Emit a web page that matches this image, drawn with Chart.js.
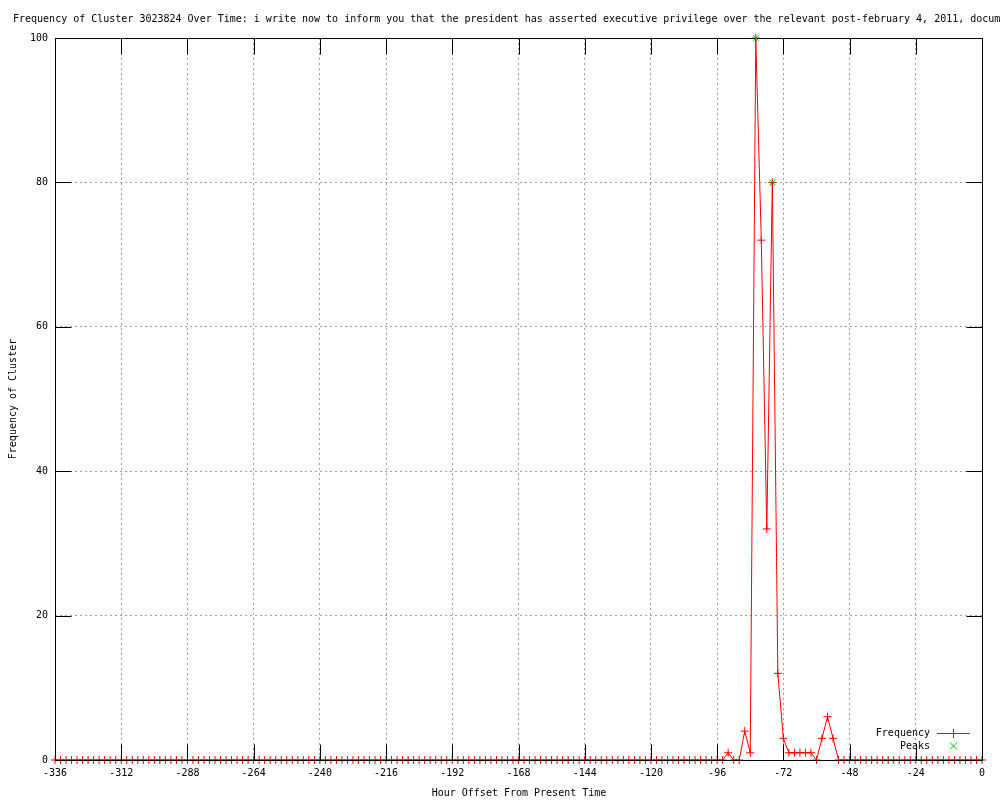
<!DOCTYPE html>
<html>
<head>
<meta charset="utf-8">
<script src="https://cdn.jsdelivr.net/npm/chart.js@4"></script>
<style>
  html, body { margin: 0; padding: 0; background: #fff; }
  #chart { display: block; }
</style>
</head>
<body>
<canvas id="chart" width="1000" height="800"></canvas>
<script>
// Данные графика
const titleText = 'Frequency of Cluster 3023824 Over Time: i write now to inform you that the president has asserted executive privilege over the relevant post-february 4, 2011, documents';
const xTitle = 'Hour Offset From Present Time';
const yTitle = 'Frequency of Cluster';

// часы от -336 до 0 с шагом 2
const hours = Array.from({ length: 169 }, (_, i) => -336 + 2 * i);

const frequency = [
    0, 0, 0, 0, 0, 0, 0, 0, 0, 0, 0, 0, 0, 0, 0, 0, 0, 0, 0, 0, 0, 0, 0, 0,
    0, 0, 0, 0, 0, 0, 0, 0, 0, 0, 0, 0, 0, 0, 0, 0, 0, 0, 0, 0, 0, 0, 0, 0,
    0, 0, 0, 0, 0, 0, 0, 0, 0, 0, 0, 0, 0, 0, 0, 0, 0, 0, 0, 0, 0, 0, 0, 0,
    0, 0, 0, 0, 0, 0, 0, 0, 0, 0, 0, 0, 0, 0, 0, 0, 0, 0, 0, 0, 0, 0, 0, 0,
    0, 0, 0, 0, 0, 0, 0, 0, 0, 0, 0, 0, 0, 0, 0, 0, 0, 0, 0, 0, 0, 0, 0, 0,
    0, 0,
    1, 0, 0, 4, 1, 100, 72, 32, 80, 12, 3, 1, 1, 1, 1, 1, 0, 3, 6, 3,
    0, 0, 0, 0, 0, 0, 0, 0, 0, 0, 0, 0, 0, 0, 0, 0, 0, 0, 0, 0, 0, 0, 0, 0,
    0, 0, 0
];

const peakHours = [-82, -76];
const peakValues = [100, 80];

const xTicks = [-336, -312, -288, -264, -240, -216, -192, -168, -144, -120, -96, -72, -48, -24, 0];
const yTicks = [0, 20, 40, 60, 80, 100];

const RED = 'rgb(255,0,0)';
const GREEN = 'rgb(0,192,0)';
const FONT = '10px "DejaVu Sans Mono", "Liberation Mono", monospace';

// Рамка и внутренние засечки в стиле gnuplot
function drawFrame(chart) {
    const ctx = chart.ctx;
    const a = chart.chartArea;
    const xs = chart.scales.x, ys = chart.scales.y;
    const L = Math.round(a.left) + 0.5, R = Math.round(a.right) + 0.5;
    const T = Math.round(a.top) + 0.5, B = Math.round(a.bottom) + 0.5;
    ctx.save();
    ctx.strokeStyle = '#000';
    ctx.lineWidth = 1;
    ctx.beginPath();
    ctx.rect(L, T, R - L, B - T);
    xTicks.forEach(v => {
        const px = Math.round(xs.getPixelForValue(v)) + 0.5;
        ctx.moveTo(px, B); ctx.lineTo(px, B - 16);
        ctx.moveTo(px, T); ctx.lineTo(px, T + 16);
    });
    yTicks.forEach(v => {
        const py = Math.round(ys.getPixelForValue(v)) + 0.5;
        ctx.moveTo(L, py); ctx.lineTo(L + 16, py);
        ctx.moveTo(R, py); ctx.lineTo(R - 16, py);
    });
    ctx.stroke();
    ctx.restore();
}

const gnuplotLook = {
    id: 'gnuplotLook',
    afterDatasetDraw(chart, args) {
        if (args.index === 0) drawFrame(chart);
    },
    afterDraw(chart) {
        const ctx = chart.ctx;
        ctx.save();
        ctx.font = FONT;
        ctx.fillStyle = '#000';
        ctx.textBaseline = 'middle';

        // заголовок
        ctx.textAlign = 'left';
        ctx.fillText(titleText, 13, 19);

        // подписи осей
        ctx.textAlign = 'center';
        ctx.fillText(xTitle, 519, 793);
        ctx.save();
        ctx.translate(13, 399);
        ctx.rotate(-Math.PI / 2);
        ctx.fillText(yTitle, 0, 0);
        ctx.restore();

        // легенда
        ctx.textAlign = 'right';
        ctx.fillText('Frequency', 930, 733);
        ctx.fillText('Peaks', 930, 746);
        ctx.fillStyle = RED;
        ctx.fillRect(937, 733, 33, 1);
        ctx.fillRect(953, 729, 1, 9);
        ctx.strokeStyle = GREEN;
        ctx.lineWidth = 1;
        ctx.beginPath();
        ctx.moveTo(950, 742.5); ctx.lineTo(957, 749.5);
        ctx.moveTo(957, 742.5); ctx.lineTo(950, 749.5);
        ctx.stroke();
        ctx.restore();
    }
};

const freqPoints = hours.map((h, i) => ({ x: h, y: frequency[i] }));
const peakPoints = peakHours.map((h, i) => ({ x: h, y: peakValues[i] }));

Chart.defaults.font.family = '"DejaVu Sans Mono", "Liberation Mono", monospace';
Chart.defaults.font.size = 10;
Chart.defaults.color = '#000';

new Chart(document.getElementById('chart'), {
    type: 'scatter',
    data: {
        datasets: [
            {
                label: 'Frequency',
                data: freqPoints,
                showLine: true,
                borderColor: RED,
                backgroundColor: RED,
                borderWidth: 1,
                pointStyle: 'cross',
                pointRadius: 4,
                pointBorderWidth: 1,
                pointBorderColor: RED,
                tension: 0,
                clip: false,
                order: 2
            },
            {
                label: 'Peaks',
                data: peakPoints,
                showLine: false,
                pointStyle: 'crossRot',
                pointRadius: 4,
                pointBorderWidth: 1,
                pointBorderColor: GREEN,
                backgroundColor: GREEN,
                clip: false,
                order: 1
            }
        ]
    },
    options: {
        responsive: false,
        animation: false,
        layout: { padding: { top: 38, right: 18, left: 0, bottom: 0 } },
        plugins: {
            legend: { display: false },
            title: { display: false },
            tooltip: { enabled: false }
        },
        scales: {
            x: {
                type: 'linear',
                min: -336,
                max: 0,
                afterFit: s => { s.height = 40; },
                afterBuildTicks: s => { s.ticks = xTicks.map(v => ({ value: v })); },
                ticks: { padding: 7, maxRotation: 0, autoSkip: false, font: { size: 10 } },
                grid: { color: '#a0a0a0', lineWidth: 1, drawTicks: false },
                border: { display: false, dash: [2, 3] }
            },
            y: {
                min: 0,
                max: 100,
                afterFit: s => { s.width = 55; },
                afterBuildTicks: s => { s.ticks = yTicks.map(v => ({ value: v })); },
                ticks: { padding: 7, font: { size: 10 } },
                grid: { color: '#a0a0a0', lineWidth: 1, drawTicks: false },
                border: { display: false, dash: [2, 3] }
            }
        }
    },
    plugins: [gnuplotLook]
});
</script>
</body>
</html>
